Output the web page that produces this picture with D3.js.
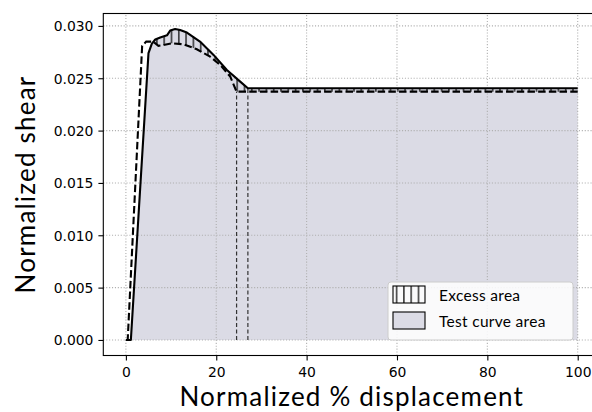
<!DOCTYPE html>
<html>
<head>
<meta charset="utf-8">
<script src="https://cdn.jsdelivr.net/npm/d3@7"></script>
<style>
  body { margin: 0; background: #fff; }
  svg { display: block; }
</style>
</head>
<body>
<svg id="chart" width="592" height="412"></svg>
<script>
// Test curve (solid): normalized shear vs normalized % displacement
const testX = [0, 1.1, 5.0, 5.75, 6.5, 7.6, 9.1, 9.8, 10.9, 12.0, 13.5, 16.4, 19.4, 22.35, 25.3, 27.0, 100];
const testY = [0, 0, 0.0274, 0.0283, 0.0287, 0.0289, 0.0291, 0.02955, 0.0297, 0.0296, 0.02936, 0.0285, 0.02723, 0.02579, 0.02468, 0.02404, 0.02404];

// Reference curve (dashed)
const refX = [0, 0.4, 3.6, 4.5, 6.0, 7.2, 8.6, 10.2, 12.7, 15.7, 18.65, 20.9, 23.1, 24.5, 100];
const refY = [0, 0, 0.0281, 0.0285, 0.0285, 0.0281, 0.0282, 0.02834, 0.02825, 0.02777, 0.02706, 0.02627, 0.02515, 0.02372, 0.02372];

// Plateau onsets marked with vertical guides: [x, shear]
const onsetX = [24.5, 27.0];
const onsetY = [0.02372, 0.02404];

const xTicks = [0, 20, 40, 60, 80, 100];
const yTicks = [0, 0.005, 0.010, 0.015, 0.020, 0.025, 0.030];

const legendLabels = ["Excess area", "Test curve area"];

const svg = d3.select("#chart");

const x = d3.scaleLinear().domain([-5, 105]).range([103.3, 600.3]);
const y = d3.scaleLinear().domain([-0.001485, 0.031185]).range([355.5, 13.5]);

const test = testX.map((d, i) => [d, testY[i]]);
const ref = refX.map((d, i) => [d, refY[i]]);

const fillGrey = "#dbdbe5";
const tickFont = "'DejaVu Sans', sans-serif";
const labelFont = "Lato, 'Open Sans', sans-serif";

const defs = svg.append("defs");

// vertical hatch
const pat = defs.append("pattern")
  .attr("id", "vhatch")
  .attr("patternUnits", "userSpaceOnUse")
  .attr("width", 7.3).attr("height", 10);
pat.append("line")
  .attr("x1", 3.6).attr("x2", 3.6).attr("y1", 0).attr("y2", 10)
  .attr("stroke", "#000").attr("stroke-width", 1.2);

// region above the reference curve
defs.append("clipPath").attr("id", "aboveRef")
  .append("path")
  .attr("d", d3.area()
    .x(d => x(d[0]))
    .y0(y.range()[1] - 5)
    .y1(d => y(d[1]))(ref));

// test curve area
svg.append("path")
  .attr("d", d3.area().x(d => x(d[0])).y0(y(0)).y1(d => y(d[1]))(test))
  .attr("fill", fillGrey);

// excess area: under the test curve and above the reference
svg.append("path")
  .attr("d", d3.area().x(d => x(d[0])).y0(y(0)).y1(d => y(d[1]))(test))
  .attr("fill", "url(#vhatch)")
  .attr("clip-path", "url(#aboveRef)");

// grid
const grid = svg.append("g");
grid.selectAll(".gx").data(xTicks).join("line")
  .attr("x1", d => x(d)).attr("x2", d => x(d))
  .attr("y1", y.range()[0]).attr("y2", y.range()[1])
  .attr("stroke", "#b0b0b0").attr("stroke-width", 1.1)
  .attr("stroke-dasharray", "1.1,1.8");
grid.selectAll(".gy").data(yTicks).join("line")
  .attr("x1", x.range()[0]).attr("x2", x.range()[1])
  .attr("y1", d => y(d)).attr("y2", d => y(d))
  .attr("stroke", "#b0b0b0").attr("stroke-width", 1.1)
  .attr("stroke-dasharray", "1.1,1.8");

// plateau onset guides
svg.append("g").selectAll("line").data(onsetX).join("line")
  .attr("x1", d => x(d)).attr("x2", d => x(d))
  .attr("y1", y(0)).attr("y2", (d, i) => y(onsetY[i]))
  .attr("stroke", "#333").attr("stroke-width", 1.2)
  .attr("stroke-dasharray", "4,2.5");

const line = d3.line().x(d => x(d[0])).y(d => y(d[1]));

svg.append("path").attr("d", line(ref))
  .attr("fill", "none").attr("stroke", "#000").attr("stroke-width", 2.1)
  .attr("stroke-dasharray", "7.5,3.2");

svg.append("path").attr("d", line(test))
  .attr("fill", "none").attr("stroke", "#000").attr("stroke-width", 2.1)
  .attr("stroke-linejoin", "round");

// axes
const xAxis = svg.append("g")
  .attr("transform", `translate(0,${y.range()[0]})`)
  .call(d3.axisBottom(x).tickValues(xTicks).tickFormat(d3.format("d")).tickSize(4.9).tickPadding(5));
xAxis.select(".domain").remove();
xAxis.selectAll("text").attr("y", 21.6).attr("dy", null)
  .style("font-family", tickFont).style("font-size", "13.9px").attr("fill", "#000");
xAxis.selectAll("line").attr("stroke", "#000").attr("stroke-width", 1.1);

const yAxis = svg.append("g")
  .attr("transform", `translate(${x.range()[0]},0)`)
  .call(d3.axisLeft(y).tickValues(yTicks).tickFormat(d3.format(".3f")).tickSize(4.9).tickPadding(5));
yAxis.select(".domain").remove();
yAxis.selectAll("text").attr("dy", "0.36em")
  .style("font-family", tickFont).style("font-size", "13.9px").attr("fill", "#000");
yAxis.selectAll("line").attr("stroke", "#000").attr("stroke-width", 1.1);

// frame
svg.append("rect")
  .attr("x", x.range()[0]).attr("y", y.range()[1])
  .attr("width", x.range()[1] - x.range()[0])
  .attr("height", y.range()[0] - y.range()[1])
  .attr("fill", "none").attr("stroke", "#000").attr("stroke-width", 1.1);

// axis titles
svg.append("text")
  .attr("x", (x.range()[0] + x.range()[1]) / 2).attr("y", 406.3)
  .attr("text-anchor", "middle")
  .style("font-family", labelFont).style("font-size", "26px")
  .style("letter-spacing", "1.2px")
  .text("Normalized % displacement");

svg.append("text")
  .attr("transform", `translate(35,${(y.range()[0] + y.range()[1]) / 2}) rotate(-90)`)
  .attr("text-anchor", "middle")
  .style("font-family", labelFont).style("font-size", "26px")
  .style("letter-spacing", "1.2px")
  .text("Normalized shear");

// legend
const lg = svg.append("g");
lg.append("rect")
  .attr("x", 388).attr("y", 282).attr("width", 185).attr("height", 58)
  .attr("rx", 3).attr("fill", "#fff").attr("fill-opacity", 0.85)
  .attr("stroke", "#cccccc").attr("stroke-width", 1);

const rows = lg.selectAll(".row").data(legendLabels).join("g")
  .attr("transform", (d, i) => `translate(393,${286 + i * 26})`);
rows.append("rect")
  .attr("width", 32).attr("height", 17)
  .attr("fill", (d, i) => i === 0 ? "url(#vhatch)" : fillGrey)
  .attr("stroke", "#000").attr("stroke-width", 1.1);
rows.append("text")
  .attr("x", 46).attr("y", 14.5)
  .style("font-family", labelFont).style("font-size", "15.5px")
  .style("letter-spacing", "0.3px")
  .text(d => d);
</script>
</body>
</html>
